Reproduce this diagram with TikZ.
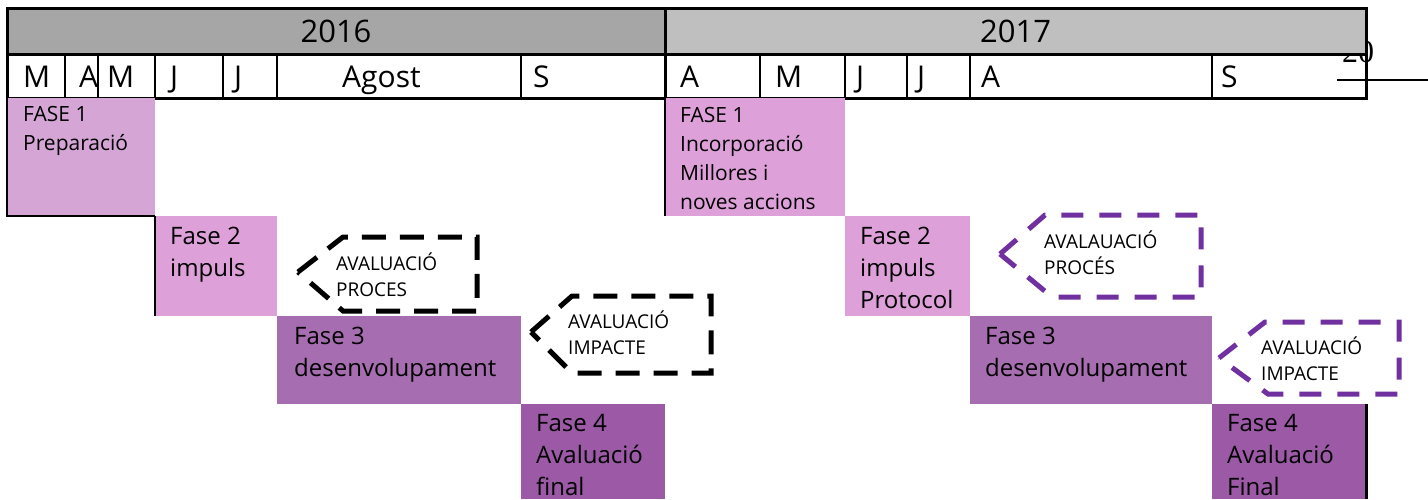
\documentclass[tikz,border=0pt]{standalone}
\usepackage{fontspec}
\setmainfont{Open Sans}
\newfontfamily\pagenumfont{Liberation Serif}

\definecolor{yearA}{HTML}{A6A6A6}
\definecolor{yearB}{HTML}{BFBFBF}
\definecolor{faseA}{HTML}{D5A6D5}
\definecolor{faseB}{HTML}{DDA0D8}
\definecolor{faseC}{HTML}{A66DB0}
\definecolor{faseD}{HTML}{9B59A6}
\definecolor{lila}{HTML}{7030A0}

\begin{document}
\begin{tikzpicture}[x=1pt, y=-1pt]

% =========================
% Styles
% =========================
\tikzstyle{yearcell} = [anchor=north west, inner sep=0pt, outer sep=0pt,
    minimum height=46pt, font=\fontsize{31}{36}\selectfont]
\tikzstyle{month} = [anchor=base west, inner sep=0pt, font=\fontsize{30}{36}\selectfont]
\tikzstyle{grid} = [line width=2.5pt]
\tikzstyle{fase} = [anchor=north west, inner sep=0pt, outer sep=0pt]
\tikzstyle{fasetext} = [anchor=north west, align=left, inner sep=0pt,
    font=\fontsize{24}{32}\selectfont]
\tikzstyle{fasesmall} = [fasetext, font=\fontsize{21}{29}\selectfont]
\tikzstyle{aval} = [line width=5pt, dash pattern=on 24pt off 14pt]
\tikzstyle{avallila} = [aval, draw=lila, dash pattern=on 22pt off 16pt]
\tikzstyle{avaltext} = [anchor=north west, align=left, inner sep=0pt,
    font=\fontsize{19}{26}\selectfont]

\useasboundingbox (0,0) rectangle (1428,499);

% =========================
% Page number (behind header)
% =========================
\node[anchor=base west, inner sep=0pt, font=\pagenumfont\fontsize{32}{38}\selectfont]
    (pagenum) at (1342,62) {20};

% =========================
% Header: years and months
% =========================
\node[yearcell, fill=yearA, minimum width=658pt] (y2016) at (7,8) {2016};
\node[yearcell, fill=yearB, minimum width=701pt] (y2017) at (665,8) {2017};

\foreach \x/\m in {23/M, 79/A, 107/M, 170/J, 234/J, 342/Agost, 533/S,
                   680/A, 775/M, 856/J, 917/J, 981/A, 1221/S}
    \node[month] (m\x) at (\x,87) {\m};

\foreach \x in {65,98,155,223,277,521,760,845,907,970,1212}
    \draw[grid] (\x,54) -- (\x,98);

\draw[line width=3pt] (7,8) rectangle (1366,98);
\draw[line width=3pt] (7,54) -- (1366,54);
\draw[line width=3pt] (665,8) -- (665,98);

\coordinate (ruleA) at (1337,80);
\coordinate (ruleB) at (1428,80);
\draw[line width=1.5pt] (ruleA) -- (ruleB);

% =========================
% Phases 2016
% =========================
\node[fase, fill=faseA, minimum width=148pt, minimum height=118pt] (f16a) at (7,98) {};
\node[fase, fill=faseB, minimum width=122pt, minimum height=100pt] (f16b) at (155,216) {};
\node[fase, fill=faseC, minimum width=244pt, minimum height=88pt] (f16c) at (277,316) {};
\node[fase, fill=faseD, minimum width=144pt, minimum height=95pt] (f16d) at (521,404) {};

\draw[line width=2.5pt] (f16a.north west) -- (f16a.south west) -- (f16a.south east);
\draw[line width=2pt] (f16b.north west) -- (f16b.south west);

\node[fasesmall] (t16a) at (23,106) {FASE 1\\Preparació};
\node[fasetext] (t16b) at (170,227) {Fase 2\\impuls};
\node[fasetext] (t16c) at (294,327) {Fase 3\\desenvolupament};
\node[fasetext] (t16d) at (536,414) {Fase 4\\Avaluació\\final};

% =========================
% Phases 2017
% =========================
\node[fase, fill=faseB, minimum width=180pt, minimum height=118pt] (f17a) at (665,98) {};
\node[fase, fill=faseB, minimum width=125pt, minimum height=100pt] (f17b) at (845,216) {};
\node[fase, fill=faseC, minimum width=242pt, minimum height=88pt] (f17c) at (970,316) {};
\node[fase, fill=faseD, minimum width=154pt, minimum height=95pt] (f17d) at (1212,404) {};

\draw[line width=2pt] (f17a.north west) -- (f17a.south west);
\draw[line width=3pt] (f17d.north east) -- (f17d.south east);

\node[fasesmall] (t17a) at (680,107) {FASE 1\\Incorporació\\Millores i\\noves accions};
\node[fasetext] (t17b) at (860,227) {Fase 2\\impuls\\Protocol};
\node[fasetext] (t17c) at (985,327) {Fase 3\\desenvolupament};
\node[fasetext] (t17d) at (1227,414) {Fase 4\\Avaluació\\Final};

% =========================
% Evaluation callouts
% =========================
\draw[aval] (298,272) -- (343,237) -- (477,237) -- (477,311) -- (343,311) -- cycle;
\node[avaltext] (c16a) at (336,253) {AVALUACIÓ\\PROCES};

\draw[aval] (531,332) -- (572,296) -- (711,296) -- (711,373) -- (572,373) -- cycle;
\node[avaltext] (c16b) at (568,311) {AVALUACIÓ\\IMPACTE};

\draw[avallila] (1000,254) -- (1045,215) -- (1201,215) -- (1201,297) -- (1052,297) -- cycle;
\node[avaltext] (c17a) at (1044,231) {AVALAUACIÓ\\PROCÉS};

\draw[avallila] (1219,358) -- (1265,322) -- (1399,322) -- (1399,394) -- (1268,394) -- cycle;
\node[avaltext] (c17b) at (1261,337) {AVALUACIÓ\\IMPACTE};

\end{tikzpicture}
\end{document}
